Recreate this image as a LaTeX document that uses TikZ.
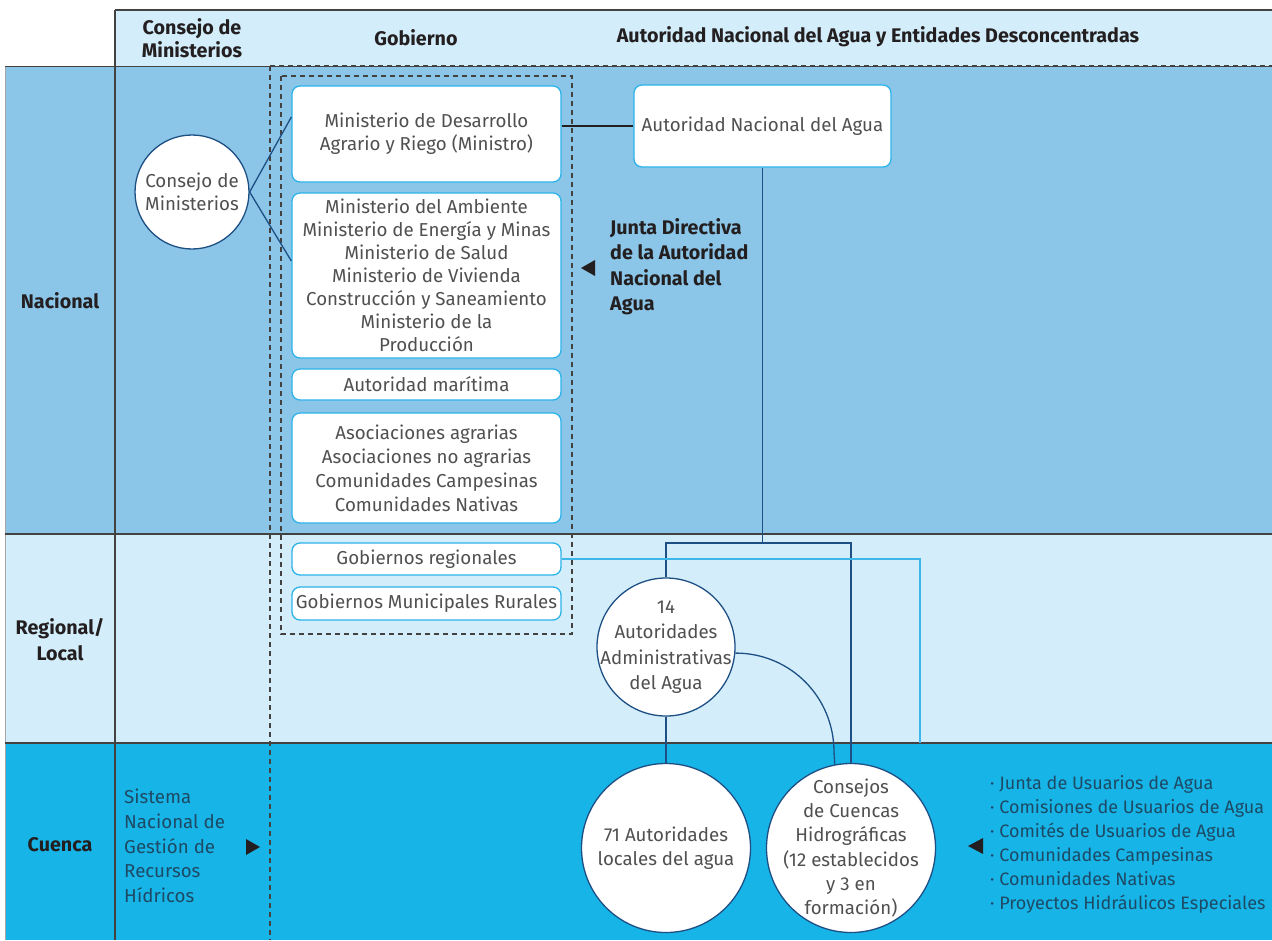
\documentclass[tikz,border=0pt]{standalone}
\usepackage{fontspec}
\setmainfont{Fira Sans}
\usetikzlibrary{calc}
\definecolor{nac}{HTML}{8BC6E8}
\definecolor{reg}{HTML}{D3EEFA}
\definecolor{cue}{HTML}{17B4E8}
\definecolor{cyanb}{HTML}{2BB3EA}
\definecolor{navy}{HTML}{1E4F84}
\definecolor{ltcy}{HTML}{3DB7EA}
\definecolor{txt}{HTML}{505050}
\definecolor{dark}{HTML}{231F20}
\definecolor{tealtxt}{HTML}{1D4A64}
\begin{document}
\begin{tikzpicture}[x=1pt,y=-1pt,
 every node/.style={font=\fontsize{18.7}{23}\selectfont, inner sep=0pt},
 box/.style={draw=cyanb, line width=1.3pt, fill=white, rounded corners=8pt, minimum width=269pt, align=center, text=txt},
 circ/.style={circle, draw=navy, line width=1.3pt, fill=white},
 ctext/.style={align=center, text=txt, font=\fontsize{18.7}{#1}\selectfont},
 hd/.style={font=\fontsize{19.7}{23}\selectfont\bfseries, text=dark, align=center},
 navyline/.style={draw=navy, line width=1.3pt},
 sepline/.style={draw=dark!85, line width=1.3pt},
 dsh/.style={draw=dark!85, line width=1.2pt, dash pattern=on 5pt off 4pt},
 tri/.style={fill=dark},
]
\useasboundingbox (0,0) rectangle (1272,940);
% bands
\fill[reg] (115,10) rectangle (1272,66);
\fill[nac] (5,66) rectangle (1272,534);
\fill[reg] (5,534) rectangle (1272,743);
\fill[cue] (5,743) rectangle (1272,940);
% grid lines
\draw[draw=gray!70, line width=1pt] (5,66) -- (5,940);
\draw[sepline] (115,10) -- (1272,10);
\draw[sepline] (115,10) -- (115,940);
\draw[sepline, line width=1pt] (5,66) -- (1272,66);
\draw[dsh] (270,66) -- (1272,66);
\draw[sepline] (5,534) -- (1272,534);
\draw[sepline] (5,743) -- (1272,743);
% dashed outlines
\draw[dsh] (270,66) -- (270,940);
\draw[dsh] (281,76) rectangle (572,634);
% header texts
\node[hd] (h1) at (192,38) {Consejo de\\Ministerios};
\node[hd] (h2) at (416,38) {Gobierno};
\node[hd] (h3) at (878,37) {Autoridad Nacional del Agua y Entidades Desconcentradas};
\node[hd] (r1) at (60,301) {Nacional};
\node[hd, font=\fontsize{19.7}{26}\selectfont\bfseries] (r2) at (60,640) {Regional/\\Local};
\node[hd] (r3) at (60,845) {Cuenca};
% boxes
\node[box, minimum height=96pt] (b1) at (426.5,134) {Ministerio de Desarrollo\\Agrario y Riego (Ministro)};
\node[box, minimum height=165pt] (b2) at (426.5,275.5) {Ministerio del Ambiente\\Ministerio de Energía y Minas\\Ministerio de Salud\\Ministerio de Vivienda\\Construcción y Saneamiento\\Ministerio de la\\Producción};
\node[box, minimum height=31pt] (b3) at (426.5,384.5) {Autoridad marítima};
\node[box, minimum height=110pt, font=\fontsize{18.7}{24}\selectfont] (b4) at (426.5,468) {Asociaciones agrarias\\Asociaciones no agrarias\\Comunidades Campesinas\\Comunidades Nativas};
\node[box, minimum height=32pt] (b5) at (426.5,559) {Gobiernos regionales};
\node[box, minimum height=33pt] (b6) at (426.5,603.5) {Gobiernos Municipales Rurales};
\node[box, minimum width=257pt, minimum height=82pt] (ana) at (762.5,126) {Autoridad Nacional del Agua};
% circles
\node[circ, minimum size=114pt, label={[ctext=23]center:Consejo de\\Ministerios}] (cm) at (192,192) {};
\node[circ, minimum size=138pt, label={[ctext=25.3]center:14\\Autoridades\\Administrativas\\del Agua}] (aad) at (666,647) {};
\node[circ, minimum size=169pt, label={[ctext=24]center:71 Autoridades\\locales del agua}] (ala) at (666,848) {};
\node[circ, minimum size=169pt, label={[ctext=24.2]center:Consejos\\de Cuencas\\Hidrográficas\\(12 establecidos\\y 3 en\\formación)}] (cch) at (851,848) {};
% side texts
\node[hd, align=left, anchor=west, font=\fontsize{19.7}{25.5}\selectfont\bfseries] (jd) at (610,266.5) {Junta Directiva\\de la Autoridad\\Nacional del\\Agua};
\node[align=left, anchor=west, text=tealtxt, font=\fontsize{18.7}{24.75}\selectfont] (sn) at (124,846) {Sistema\\Nacional de\\Gestión de\\Recursos\\Hídricos};
\node[align=left, anchor=west, text=tealtxt, font=\fontsize{18}{24}\selectfont] (ls) at (990,844) {· Junta de Usuarios de Agua\\· Comisiones de Usuarios de Agua\\· Comités de Usuarios de Agua\\· Comunidades Campesinas\\· Comunidades Nativas\\· Proyectos Hidráulicos Especiales};
% triangles
\fill[tri] (581,268) -- (595,260) -- (595,276) -- cycle;
\fill[tri] (260,847) -- (246,839) -- (246,855) -- cycle;
\fill[tri] (968,846) -- (983,838) -- (983,854) -- cycle;
% connectors
\draw[navyline] (cm.east) -- ($(b1.west)+(0,-17)$);
\draw[navyline] (cm.east) -- ($(b2.west)+(0,-14.5)$);
\draw[draw=dark, line width=1.1pt] (b1.east |- ana.west) -- (ana.west);
\coordinate (jt) at (762.5,543);
\draw[navyline] (ana.south) -- (jt);
\draw[navyline] (aad.north) |- (jt) -| (cch.north);
\draw[navyline] (aad.south) -- (ala.north);
\draw[navyline] (aad.-5) .. controls +(55,0) and +(0,-55) .. (834,752) -- (cch.101.6);
\coordinate (cy) at (920,743);
\draw[draw=ltcy, line width=1.3pt] (b5.east) -| (cy);
\end{tikzpicture}
\end{document}
